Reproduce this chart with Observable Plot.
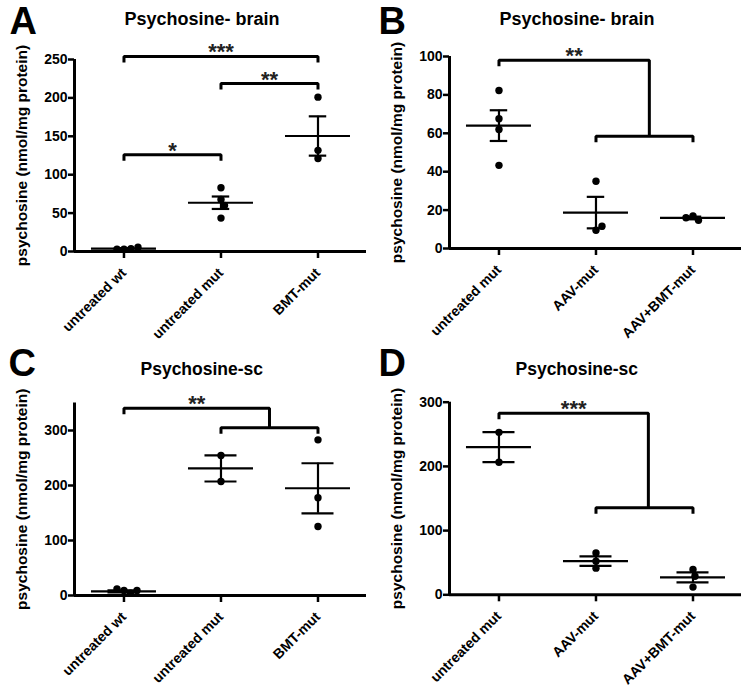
<!DOCTYPE html>
<html>
<head>
<meta charset="utf-8">
<script src="https://cdn.jsdelivr.net/npm/d3@7"></script>
<script src="https://cdn.jsdelivr.net/npm/@observablehq/plot@0.6"></script>
<style>
  html, body { margin: 0; padding: 0; background: #fff; }
  #root { position: relative; width: 750px; height: 695px; overflow: hidden; background: #fff; }
  #root svg { position: absolute; }
</style>
</head>
<body>
<div id="root"></div>
<script>
// ---------- categories ----------
const catsWt = ["untreated wt", "untreated mut", "BMT-mut"];
const catsAav = ["untreated mut", "AAV-mut", "AAV+BMT-mut"];
const yLabel = "psychosine (nmol/mg protein)";

// ---------- Panel A: Psychosine- brain ----------
const pointsA = [[3, 3.5, 3, 5.5], [83, 67.8, 60, 43.5], [201, 131.7, 121]];
const meanA = [3.8, 63.5, 150.4];
const semA = [0.6, 8.1, 25.6];
const ticksA = [0, 50, 100, 150, 200, 250];
const bracketsA = [
  {from: 0, to: 2, y: 254, label: "***"},
  {from: 1, to: 2, y: 218.7, label: "**"},
  {from: 0, to: 1, y: 126, label: "*"}
];

// ---------- Panel B: Psychosine- brain ----------
const pointsB = [[82.3, 67.6, 62, 43.3], [35, 9.5, 11.6], [17, 14.7, 16]];
const meanB = [64, 18.7, 15.9];
const semB = [8, 8.2, 0.7];
const ticksB = [0, 20, 40, 60, 80, 100];
const combB = [{from: 0, y: 98, joinX: 1.55, lowFrom: 1, lowTo: 2, lowY: 58.4, label: "**"}];

// ---------- Panel C: Psychosine-sc ----------
const pointsC = [[9, 4, 12, 9], [254.5, 207.3], [283, 177.6, 125.5]];
const meanC = [7.5, 231, 195];
const semC = [1.7, 23.7, 45.5];
const ticksC = [0, 100, 200, 300];
const combC = [{from: 0, y: 340.6, joinX: 1.5, lowFrom: 1, lowTo: 2, lowY: 304.8, label: "**"}];

// ---------- Panel D: Psychosine-sc ----------
const pointsD = [[253, 206.5], [65, 52.4, 41.5], [39.4, 29, 12]];
const meanD = [230, 52.4, 27];
const semD = [23.3, 7.3, 7.8];
const ticksD = [0, 100, 200, 300];
const combD = [{from: 0, y: 282.8, joinX: 1.54, lowFrom: 1, lowTo: 2, lowY: 135.4, label: "***"}];

const FONT = "'Liberation Sans', Arial, Helvetica, sans-serif";

function swarm(vals, pxY, pxX, r) {
  const placed = [];
  return vals.map(v => {
    const py = v * pxY;
    let off = 0;
    for (let k = 0; k < 400; k++) {
      const o = (k % 2 ? 1 : -1) * Math.ceil(k / 2) * 0.5;
      if (placed.every(p => Math.hypot(p.x - o, p.y - py) >= 2 * r - 0.5)) { off = o; break; }
    }
    placed.push({x: off, y: py});
    return off / pxX;
  });
}

function panel(cfg) {
  const W = 375, H = 345, ml = 74, mr = 9;
  const xDomain = [-0.51, 2.5];
  const pxX = (W - ml - mr) / (xDomain[1] - xDomain[0]);
  const pxY = (H - cfg.mt - cfg.mb) / cfg.yMax;
  const r = 3.7;
  const dots = [];
  cfg.points.forEach((vals, i) => {
    const offs = swarm(vals, pxY, pxX, r);
    vals.forEach((v, j) => dots.push({x: i + offs[j], y: v}));
  });
  const stats = cfg.means.map((m, i) => ({i, m, lo: m - cfg.sems[i], hi: m + cfg.sems[i]}));
  const drop = 6 / pxY;
  const paths = [], labels = [];
  (cfg.brackets || []).forEach((b, k) => {
    [[b.from, b.y - drop], [b.from, b.y], [b.to, b.y], [b.to, b.y - drop]]
      .forEach(([x, y]) => paths.push({id: "s" + k, x, y}));
    labels.push({x: (b.from + b.to) / 2, y: b.y, t: b.label});
  });
  (cfg.combs || []).forEach((b, k) => {
    [[b.from, b.y - drop], [b.from, b.y], [b.joinX, b.y], [b.joinX, b.lowY]]
      .forEach(([x, y]) => paths.push({id: "t" + k, x, y}));
    [[b.lowFrom, b.lowY - drop], [b.lowFrom, b.lowY], [b.lowTo, b.lowY], [b.lowTo, b.lowY - drop]]
      .forEach(([x, y]) => paths.push({id: "l" + k, x, y}));
    labels.push({x: (b.from + b.joinX) / 2, y: b.y, t: b.label});
  });

  const svg = Plot.plot({
    width: W, height: H,
    marginLeft: ml, marginRight: mr, marginTop: cfg.mt, marginBottom: cfg.mb,
    x: {domain: xDomain},
    y: {domain: [0, cfg.yMax]},
    style: {fontFamily: FONT, fontSize: "14px", fontWeight: "bold", color: "#000", background: "transparent", overflow: "visible"},
    marks: [
      Plot.axisY(cfg.yTicks, {tickSize: 6, tickPadding: 1, strokeWidth: 2.5, fontSize: 14, fontWeight: "bold"}),
      Plot.axisX([0, 1, 2], {tickFormat: d => cfg.cats[d], tickRotate: -45, tickSize: 7, tickPadding: 12, strokeWidth: 2.5, fontSize: 14, fontWeight: "bold"}),
      Plot.ruleX([xDomain[0]], {strokeWidth: 3}),
      Plot.ruleY([0], {strokeWidth: 3}),
      Plot.ruleY(stats, {y: "m", x1: d => d.i - 0.335, x2: d => d.i + 0.335, strokeWidth: 2.2}),
      Plot.ruleX(stats, {x: "i", y1: "lo", y2: "hi", strokeWidth: 2.2}),
      Plot.ruleY(stats, {y: "hi", x1: d => d.i - cfg.capHalf, x2: d => d.i + cfg.capHalf, strokeWidth: 2.2}),
      Plot.ruleY(stats, {y: "lo", x1: d => d.i - cfg.capHalf, x2: d => d.i + cfg.capHalf, strokeWidth: 2.2}),
      Plot.dot(dots, {x: "x", y: "y", r, fill: "#000", stroke: "none"}),
      Plot.line(paths, {x: "x", y: "y", z: "id", strokeWidth: 3, strokeLinejoin: "miter", strokeLinecap: "butt"}),
      Plot.text(labels, {x: "x", y: "y", text: "t", lineAnchor: "bottom", dy: 3, fontSize: 22, fill: "#222"}),
      Plot.text([yLabel], {frameAnchor: "left", rotate: -90, dx: -52, fontSize: 15.5, fontWeight: "bold", textAnchor: "middle"}),
      Plot.text([cfg.letter], {frameAnchor: "top-left", dx: cfg.letterX - ml, dy: cfg.letterY - cfg.mt, textAnchor: "start", lineAnchor: "bottom", fontSize: 38, fontWeight: "bold"}),
      Plot.text([cfg.title], {frameAnchor: "top-left", dx: cfg.titleX - ml, dy: cfg.titleY - cfg.mt, textAnchor: "start", lineAnchor: "bottom", fontSize: cfg.titleSize, fontWeight: "bold"})
    ]
  });
  svg.style.left = cfg.left + "px";
  svg.style.top = cfg.top + "px";
  return svg;
}

const root = document.getElementById("root");
root.append(
  panel({left: 0, top: 0, mt: 59, mb: 94, yMax: 250, yTicks: ticksA, cats: catsWt,
    points: pointsA, means: meanA, sems: semA, brackets: bracketsA, capHalf: 0.09,
    letter: "A", letterX: 9, letterY: 33.3, title: "Psychosine- brain", titleX: 124, titleY: 24, titleSize: 18}),
  panel({left: 375, top: 0, mt: 56, mb: 97, yMax: 100, yTicks: ticksB, cats: catsAav,
    points: pointsB, means: meanB, sems: semB, combs: combB, capHalf: 0.09,
    letter: "B", letterX: 3, letterY: 33.3, title: "Psychosine- brain", titleX: 124, titleY: 24, titleSize: 18}),
  panel({left: 0, top: 344, mt: 58.5, mb: 94, yMax: 350, yTicks: ticksC, cats: catsWt,
    points: pointsC, means: meanC, sems: semC, combs: combC, capHalf: 0.165,
    letter: "C", letterX: 8, letterY: 31.5, title: "Psychosine-sc", titleX: 140, titleY: 30, titleSize: 17.5}),
  panel({left: 375, top: 344, mt: 57.7, mb: 94.7, yMax: 300, yTicks: ticksD, cats: catsAav,
    points: pointsD, means: meanD, sems: semD, combs: combD, capHalf: 0.165,
    letter: "D", letterX: 3, letterY: 31.5, title: "Psychosine-sc", titleX: 140, titleY: 30, titleSize: 17.5})
);
</script>
</body>
</html>
